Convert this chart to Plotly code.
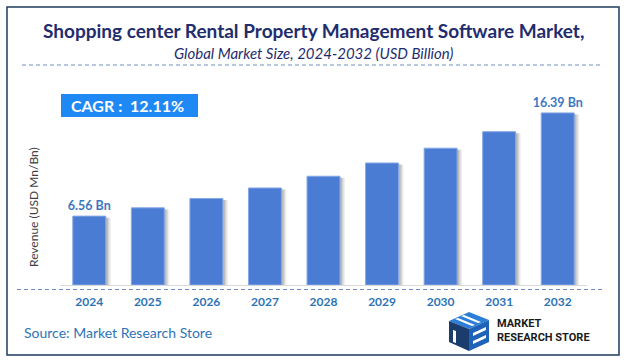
import plotly.graph_objects as go

years = ["2024", "2025", "2026", "2027", "2028", "2029", "2030", "2031", "2032"]
revenue = [6.56, 7.35, 8.24, 9.24, 10.36, 11.62, 13.03, 14.60, 16.39]
label_text = ["6.56 Bn", "", "", "", "", "", "", "", "16.39 Bn"]
title = "Shopping center Rental Property Management Software Market,"
subtitle = "Global Market Size, 2024-2032 (USD Billion)"
cagr = "CAGR :  12.11%"
source = "Source: Market Research Store"

W, H = 629, 364
L, R, T, B = 60, 42, 100, 79
PW, PH = W - L - R, H - T - B

def px(x):
    return (x - L) / PW

def py(y):
    return (H - B - y) / PH

BW = 0.563
fig = go.Figure()
# soft shadows
for off, a in [(0.085, 0.10), (0.06, 0.16), (0.035, 0.22)]:
    fig.add_trace(go.Bar(x=years, y=[v - 0.15 for v in revenue], width=BW, offset=-BW / 2 + off,
                         marker=dict(color=f"rgba(90,90,90,{a})", line=dict(width=0)),
                         hoverinfo="skip", showlegend=False))
fig.add_trace(go.Bar(x=years, y=revenue, width=BW, offset=-BW / 2,
                     marker=dict(color="#4a7cd3", line=dict(color="#86a8e6", width=1)),
                     text=label_text, textposition="outside", cliponaxis=False, constraintext="none",
                     textfont=dict(family="Lato", size=12.5, color="#3b78c0", weight="bold"),
                     showlegend=False))

shapes = [
    dict(type="rect", xref="paper", yref="paper", x0=px(7), x1=px(619), y0=py(355), y1=py(7),
         line=dict(color="#1f3b5f", width=1.5), layer="below"),
    dict(type="line", xref="paper", yref="paper", x0=px(22), x1=px(601), y0=py(65), y1=py(65),
         line=dict(color="#6f8fc4", width=1, dash="4px,3px")),
    dict(type="line", xref="paper", yref="paper", x0=px(17), x1=px(602), y0=py(289.5), y1=py(289.5),
         line=dict(color="#6f8fc4", width=1, dash="4px,3px")),
    dict(type="rect", xref="paper", yref="paper", x0=px(61), x1=px(198), y0=py(117), y1=py(94),
         fillcolor="#1e88f5", line=dict(width=0)),
]

def poly(pts, color):
    d = "M " + " L ".join(f"{px(a):.5f},{py(b):.5f}" for a, b in pts) + " Z"
    return dict(type="path", xref="paper", yref="paper", path=d, fillcolor=color, line=dict(width=0))

# logo icon (simplified isometric cube)
shapes += [
    poly([(449, 321), (469, 312), (489, 320), (469, 329)], "#2b7fd6"),
    poly([(449, 321), (469, 329), (469, 351), (449, 342)], "#1b3d6e"),
    poly([(469, 329), (489, 320), (489, 342), (469, 351)], "#1f63b8"),
]
for (a, b, c, d) in [((455, 319), (472, 326), (475, 325), (458, 318)),
                     ((461, 316), (478, 323), (481, 322), (464, 315))]:
    shapes.append(poly([a, b, c, d], "#ffffff"))
shapes.append(poly([(473, 333), (486, 327), (486, 330), (473, 336)], "#ffffff"))
shapes.append(poly([(473, 341), (486, 335), (486, 338), (473, 344)], "#ffffff"))
shapes.append(poly([(453, 330), (456, 331), (456, 343), (453, 342)], "#ffffff"))

def ann(text, x, y, size, color, bold=False, italic=False, xanchor="center", family="Lato", angle=0, align="center"):
    return dict(text=text, x=px(x), y=py(y), xref="paper", yref="paper", showarrow=False,
                xanchor=xanchor, yanchor="middle", textangle=angle, align=align,
                font=dict(family=family, size=size, color=color,
                          weight="bold" if bold else "normal", style="italic" if italic else "normal"))

annotations = [
    ann(title, 313.5, 30, 19, "#1f2d6e", bold=True),
    ann(subtitle, 313.5, 53, 15, "#1f2d6e", italic=True),
    ann(cagr, 127, 105.5, 16, "#ffffff", bold=True),
    ann("Revenue (USD Mn/Bn)", 33, 207, 12, "#404040", angle=-90),
    ann(source, 22, 332, 14, "#2e74b5", xanchor="left"),
    ann("MARKET<br>RESEARCH STORE", 495, 330, 11, "#1a1a1a", bold=True, xanchor="left",
        family="Roboto", align="left"),
]

fig.update_layout(
    width=W, height=H, margin=dict(l=L, r=R, t=T, b=B),
    paper_bgcolor="white", plot_bgcolor="white", barmode="overlay",
    shapes=shapes, annotations=annotations,
    xaxis=dict(type="category", range=[-0.5, 8.5], showgrid=False, showline=True, linecolor="#d9d9d9",
               linewidth=1, ticks="", ticklabelstandoff=6,
               tickfont=dict(family="Lato", size=12, color="#2e74b5", weight="bold")),
    yaxis=dict(range=[0, PH / 10.5], showgrid=False, showticklabels=False, zeroline=False, showline=False),
)
fig.write_html("out.html", config={"displayModeBar": False},
               post_script="document.body.style.margin='0';")
